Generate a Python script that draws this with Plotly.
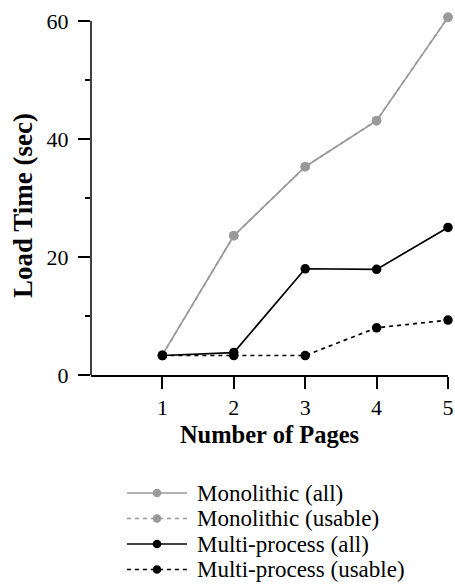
import plotly.graph_objects as go

pages = [1, 2, 3, 4, 5]
mono_all = [3.4, 23.6, 35.3, 43.1, 60.6]
mono_usable = [3.4, 23.6, 35.3, 43.1, 60.6]
multi_all = [3.3, 3.8, 18.0, 17.9, 25.0]
multi_usable = [3.3, 3.3, 3.3, 8.0, 9.3]
series_names = ["Monolithic (all)", "Monolithic (usable)", "Multi-process (all)", "Multi-process (usable)"]

GRAY = "#9a9a9a"
FONT = "'Liberation Serif', 'Times New Roman', Times, serif"
W, H = 455, 584
L, R, T, B = 91, 7, 15, 209
PW, PH = W - L - R, H - T - B


def px2x(px):
    return (px - L) / PW


def py2y(py):
    return (H - B - py) / PH


styles = [(GRAY, "solid"), (GRAY, "4px,4px"), ("black", "solid"), ("black", "4px,4px")]
values = [mono_all, mono_usable, multi_all, multi_usable]

fig = go.Figure()
for name, ys, (col, dash) in zip(series_names, values, styles):
    fig.add_trace(go.Scatter(
        x=pages, y=ys, name=name, mode="lines+markers",
        line=dict(color=col, width=1.7, dash=dash),
        marker=dict(color=col, size=9.5),
        cliponaxis=False, showlegend=False,
    ))

shapes = [dict(type="line", xref="paper", yref="y", x0=0, x1=0, y0=0, y1=60,
               line=dict(color="black", width=1.5), layer="below")]
annotations = []
row_y = [493, 518.5, 544, 569.5]
for name, (col, dash), ry in zip(series_names, styles, row_y):
    shapes.append(dict(type="line", xref="paper", yref="paper",
                       x0=px2x(127), x1=px2x(187), y0=py2y(ry), y1=py2y(ry),
                       line=dict(color=col, width=1.7, dash=dash)))
    shapes.append(dict(type="circle", xref="paper", yref="paper",
                       xsizemode="pixel", ysizemode="pixel",
                       xanchor=px2x(157), yanchor=py2y(ry),
                       x0=-4.3, x1=4.3, y0=-4.3, y1=4.3,
                       fillcolor=col, line=dict(color=col, width=0)))
    annotations.append(dict(text=name, xref="paper", yref="paper",
                            x=px2x(195), y=py2y(ry), xanchor="left", yanchor="middle",
                            showarrow=False, font=dict(family=FONT, size=23, color="black")))

annotations.append(dict(text="<b>Load Time (sec)</b>", xref="paper", yref="paper",
                        x=px2x(23), y=py2y(206), xanchor="center", yanchor="middle",
                        textangle=-90, showarrow=False,
                        font=dict(family=FONT, size=27, color="black")))

fig.update_layout(
    width=W, height=H,
    margin=dict(l=L, r=R, t=T, b=B, autoexpand=False),
    plot_bgcolor="white", paper_bgcolor="white",
    font=dict(family=FONT, size=22, color="black"),
    showlegend=False,
    xaxis=dict(
        range=[0, 5], tickvals=pages, ticktext=[str(p) for p in pages],
        showline=True, linecolor="black", linewidth=1.5,
        ticks="outside", ticklen=12, tickwidth=1.5, tickcolor="black",
        showgrid=False, zeroline=False, automargin=False,
        title=dict(text="<b>Number of Pages</b>", font=dict(family=FONT, size=24.5), standoff=7),
        tickfont=dict(family=FONT, size=22),
    ),
    yaxis=dict(
        range=[0, 61], tickvals=[0, 20, 40, 60],
        showline=False, automargin=False,
        ticks="outside", ticklen=12, tickwidth=1.5, tickcolor="black",
        ticklabelstandoff=5,
        minor=dict(ticks="outside", ticklen=5, tickwidth=1.5, tickcolor="black", dtick=10, tick0=0, showgrid=False),
        showgrid=False, zeroline=False,
        tickfont=dict(family=FONT, size=22),
    ),
    shapes=shapes,
    annotations=annotations,
)

fig.write_html("out.html")
